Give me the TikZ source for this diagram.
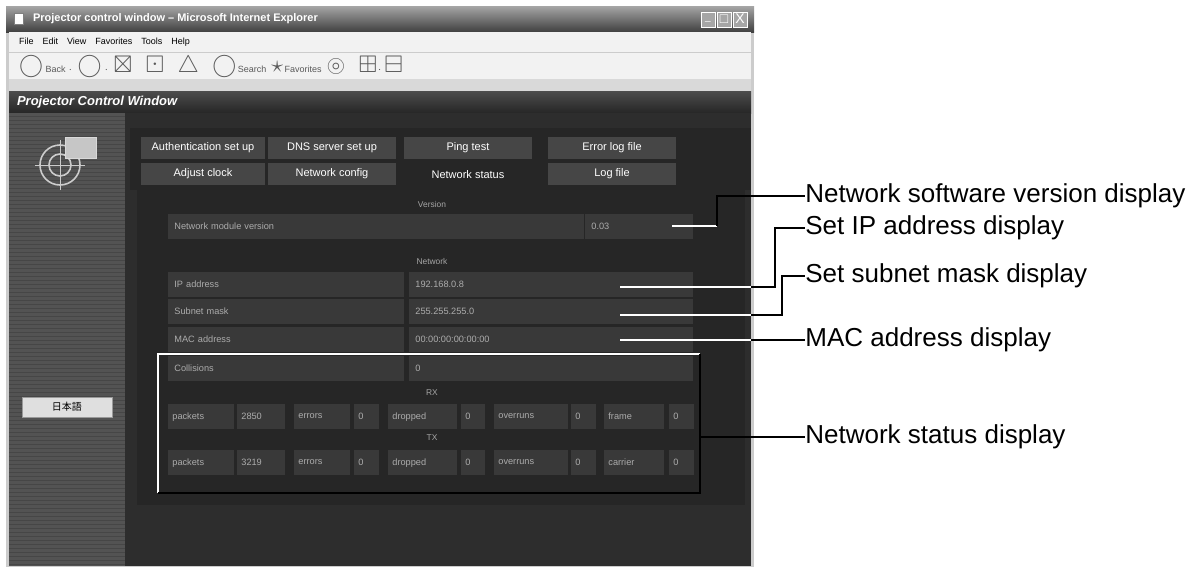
\documentclass[tikz,border=0pt]{standalone}
\usepackage{amssymb}
\usepackage{fontspec}
\setmainfont{Liberation Sans}
\newfontfamily\cjk{Noto Sans CJK JP}
\begin{document}
\begin{tikzpicture}[x=0.5pt,y=-0.5pt,
  tab/.style={fill=gray!55!black,text=white,font=\fontsize{5.5}{6}\selectfont,inner sep=0pt},
  cell/.style={fill=gray!45!black,text=gray!65,font=\fontsize{4.6}{5}\selectfont,inner sep=0pt,text depth=0pt,align=left},
  sec/.style={text=gray!70,font=\fontsize{4.2}{5}\selectfont},
  lead/.style={draw=white,line width=0.7pt},
  call/.style={draw=black,line width=0.7pt},
  lab/.style={anchor=west,font=\fontsize{13}{14}\selectfont,inner sep=0pt}]
\useasboundingbox (0,0) rectangle (1201,568);
\fill[white] (0,0) rectangle (1201,568);
% window
\fill[gray!40] (6,6) rectangle (754,567);
\shade[top color=gray!70,bottom color=gray!50!black] (6,6) rectangle (754,32);
\node[anchor=west,text=white,font=\fontsize{5.5}{6}\selectfont\bfseries] (title) at (26,19) {Projector control window -- Microsoft Internet Explorer};
\fill[white,draw=gray] (14,13) rectangle (23,24);
\foreach \i/\xx in {1/708,2/724,3/740}{\fill[gray!70!white,draw=white] (\xx-7,12) rectangle (\xx+7,27);}
\node[text=white,font=\tiny] (min) at (708,21) {\_};
\node[text=white,font=\tiny] (max) at (724,19) {$\square$};
\node[text=white,font=\scriptsize] (cls) at (740,19) {X};
\fill[gray!10] (9,32) rectangle (751,79);
\draw[gray!40] (9,52) -- (751,52);
\node[anchor=west,font=\fontsize{4.5}{5}\selectfont] (menu) at (12,42) {File\quad Edit\quad View\quad Favorites\quad Tools\quad Help};
\node[anchor=west,font=\fontsize{4.5}{5}\selectfont,text=gray!70!black] (tool) at (12,66) {{\large$\bigcirc$} Back $\cdot$\ \ {\large$\bigcirc$} $\cdot$\ \ {\large$\boxtimes$\ \ $\boxdot$\ \ $\triangle$\ \ $\bigcirc$}\,Search\ \ {\large$\star$}\,Favorites\ \ {\large$\circledcirc$\ \ $\boxplus$}$\cdot$\ {\large$\boxminus$}};
\fill[gray!30] (9,79) rectangle (751,91);
\shade[top color=gray!60!black,bottom color=gray!30!black] (9,91) rectangle (751,113);
\node[anchor=west,text=white,font=\fontsize{6.5}{7}\selectfont\itshape\bfseries] (pcw) at (10,102) {Projector Control Window};
% sidebar
\fill[gray!65!black] (9,113) rectangle (125,566);
\foreach \yy in {116,120,...,564}{\draw[gray!55!black,line width=0.3pt] (9,\yy) -- (125,\yy);}
\draw[gray!40,line width=0.8pt] (60,165) circle (20);
\draw[gray!40,line width=0.8pt] (60,165) circle (11);
\draw[gray!40] (35,165) -- (85,165) (60,140) -- (60,190);
\fill[gray!45,draw=gray!30] (65,137) rectangle (96,158);
\node[fill=gray!25,draw=gray!80,minimum width=45pt,minimum height=10pt,inner sep=0pt,font=\cjk\fontsize{5}{6}\selectfont] (jp) at (67,407) {日本語};
% main
\fill[gray!35!black] (125,113) rectangle (751,566);
\fill[black!85] (130,128) rectangle (751,190);
\node[tab,minimum width=62pt,minimum height=11pt] (t1) at (203,148) {Authentication set up};
\node[tab,minimum width=64pt,minimum height=11pt] (t2) at (332,148) {DNS server set up};
\node[tab,minimum width=64pt,minimum height=11pt] (t3) at (468,148) {Ping test};
\node[tab,minimum width=64pt,minimum height=11pt] (t4) at (612,148) {Error log file};
\node[tab,minimum width=62pt,minimum height=11pt] (t5) at (203,174) {Adjust clock};
\node[tab,minimum width=64pt,minimum height=11pt] (t6) at (332,174) {Network config};
\fill[gray!30!black] (402,162) rectangle (534,190);
\node[text=white,font=\fontsize{5.5}{6}\selectfont] (t7) at (468,175) {Network status};
\node[tab,minimum width=64pt,minimum height=11pt] (t8) at (612,174) {Log file};
\fill[gray!30!black] (137,190) rectangle (745,505);
% version
\node[sec] (ver) at (432,204) {Version};
\node[cell,anchor=west,minimum width=208pt,minimum height=12.5pt,text width=204pt] (nmv) at (168,226.5) {\hspace*{1pt}Network module version};
\node[cell,anchor=west,minimum width=54pt,minimum height=12.5pt,text width=50pt] (nmvv) at (585,226.5) {\hspace*{1pt}0.03};
\node[sec] (net) at (432,261) {Network};
\foreach \n/\yy/\a/\b in {ip/284.5/IP address/192.168.0.8,sm/311.5/Subnet mask/255.255.255.0,mac/339.5/MAC address/00:00:00:00:00:00,col/368.5/Collisions/0}{
  \node[cell,anchor=west,minimum width=118pt,minimum height=12.5pt,text width=114pt] (\n l) at (168,\yy) {\hspace*{1pt}\a};
  \node[cell,anchor=west,minimum width=142pt,minimum height=12.5pt,text width=138pt] (\n v) at (409,\yy) {\hspace*{1pt}\b};
}
\node[sec] (rx) at (432,393) {RX};
\node[sec] (tx) at (432,438) {TX};
\foreach \r/\yy/\c/\d/\e in {r/416.5/2850/frame/0,t/462.5/3219/carrier/0}{
  \foreach \k/\xa/\xb/\txt in {1/168/234/packets,2/237/285/\c,3/294/350/errors,4/354/379/0,5/388/457/dropped,6/461/485/0,7/494/568/overruns,8/571/596/0,9/604/664/\d,10/669/694/\e}{
    \node[cell,anchor=west,minimum width={(\xb-\xa)*0.5pt},minimum height=12.5pt,text width={(\xb-\xa)*0.5pt-4pt}] (\r\k) at (\xa,\yy) {\txt};
  }
}
% network status bracket
\draw[white,line width=0.8pt] (158,493) -- (158,354) -- (700,354);
\draw[black,line width=0.8pt] (700,354) -- (700,493) -- (158,493);
% callouts
\node[lab] (c1) at (805,196) {Network software version display};
\node[lab] (c2) at (805,228) {Set IP address display};
\node[lab] (c3) at (805,276) {Set subnet mask display};
\node[lab] (c4) at (805,340) {MAC address display};
\node[lab] (c5) at (805,437) {Network status display};
\coordinate (a1) at (672,226); \coordinate (b1) at (717,226);
\draw[lead] (a1) -- (b1); \draw[call] (b1) |- (c1.west);
\coordinate (a2) at (620,287); \coordinate (b2) at (775,287);
\draw[lead] (a2) -- (751,287); \draw[call] (751,287) -- (b2) |- (c2.west);
\coordinate (a3) at (620,315); \coordinate (b3) at (782,315);
\draw[lead] (a3) -- (751,315); \draw[call] (751,315) -- (b3) |- (c3.west);
\coordinate (a4) at (620,340);
\draw[lead] (a4) -- (751,340); \draw[call] (751,340) -- (c4.west);
\coordinate (a5) at (700,437);
\draw[call] (a5) -- (c5.west);
\end{tikzpicture}
\end{document}
